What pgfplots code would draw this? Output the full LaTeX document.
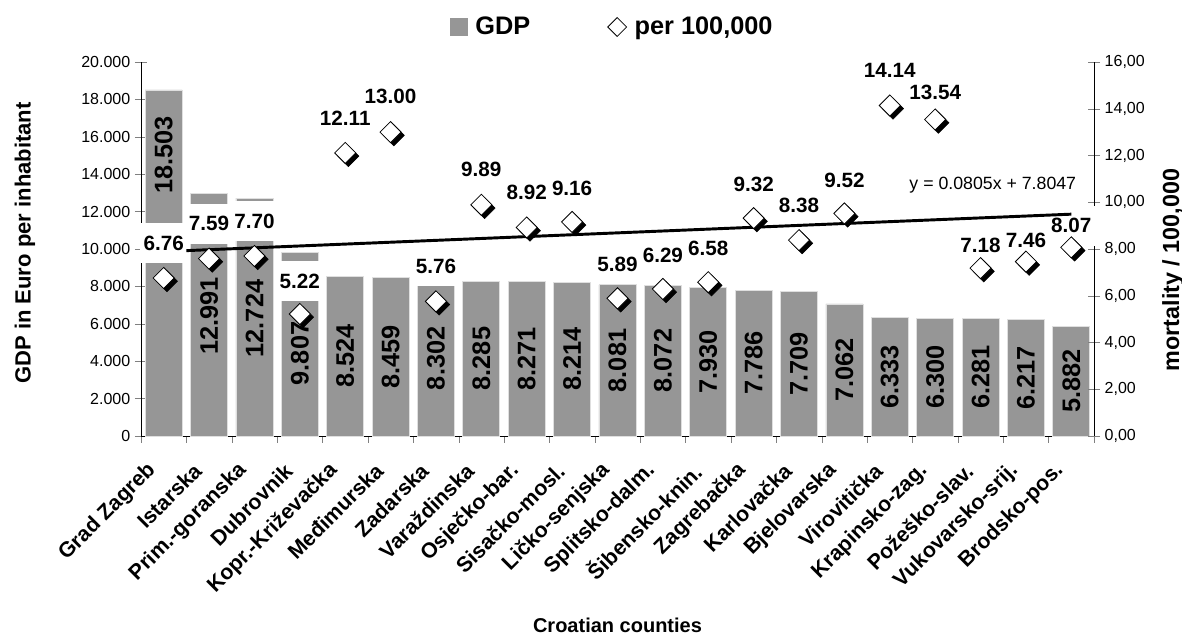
\documentclass[border=0pt]{standalone}
\usepackage{pgfplots}
\pgfplotsset{compat=1.18}
\usepackage{fontspec}
\setmainfont{Liberation Sans}
\definecolor{barcol}{RGB}{150,150,150}
\newcommand\fs[1]{\fontsize{#1}{#1}\selectfont}
\newcommand\tl[1]{{\fontsize{12}{12}\selectfont #1}}
\pgfplotsset{
  overlay axis/.style={scale only axis, width=714.75pt, height=280.5pt,
    xmin=0.5, xmax=21.5, ymin=0, ymax=16},
}

\begin{document}
\begin{tikzpicture}
% GDP bars, left axis
\begin{axis}[
  scale only axis, width=714.75pt, height=280.5pt,
  xmin=0.5, xmax=21.5, ymin=0, ymax=20000,
  axis x line*=bottom, axis y line*=left,
  xtick={1,...,21},
  xticklabels={Grad Zagreb, Istarska, Prim.-goranska, Dubrovnik, Kopr.-Križevačka,
    Međimurska, Zadarska, Varaždinska, Osječko-bar., Sisačko-mosl., Ličko-senjska,
    Splitsko-dalm., Šibensko-knin., Zagrebačka, Karlovačka, Bjelovarska, Virovitička,
    Krapinsko-zag., Požeško-slav., Vukovarsko-srij., Brodsko-pos.},
  major x tick style={draw=none},
  minor xtick={0.5,1.5,...,21.5},
  xtick align=outside, minor tick length=5pt,
  ytick={0,2000,...,20000}, ytick align=center, major tick length=9pt,
  scaled y ticks=false,
  yticklabels={\tl{0},\tl{2.000},\tl{4.000},\tl{6.000},\tl{8.000},\tl{10.000},
    \tl{12.000},\tl{14.000},\tl{16.000},\tl{18.000},\tl{20.000}},
  xticklabel style={xshift=-6pt, yshift=-12pt, rotate=45, anchor=east, font=\bfseries\fs{16}},
  xlabel={Croatian counties},
  xlabel style={at={(axis description cs:0.5,-0.505)}, anchor=center, font=\bfseries\fs{15}},
  ylabel={GDP in Euro per inhabitant},
  ylabel style={at={(axis description cs:-0.1217,0.516)}, anchor=center, font=\bfseries\fs{16.5}},
]
\addplot[ybar, bar width=27.75pt, fill=barcol, draw=gray!25, line width=0.6pt] coordinates {
  (1,18503) (2,12991) (3,12724) (4,9807) (5,8524) (6,8459) (7,8302) (8,8285) (9,8271)
  (10,8214) (11,8081) (12,8072) (13,7930) (14,7786) (15,7709) (16,7062) (17,6333)
  (18,6300) (19,6281) (20,6217) (21,5882)};
\addplot[draw=none, nodes near coords, point meta=explicit symbolic,
  nodes near coords style={rotate=90, anchor=center, font=\bfseries\fs{19}}] coordinates {
  (1,15027)[18.503] (2,6417)[12.991] (3,6283)[12.724] (4,4412)[9.807] (5,4262)[8.524]
  (6,4229.5)[8.459] (7,4151)[8.302] (8,4142.5)[8.285] (9,4135.5)[8.271] (10,4107)[8.214]
  (11,4040.5)[8.081] (12,4036)[8.072] (13,3965)[7.930] (14,3893)[7.786] (15,3854.5)[7.709]
  (16,3531)[7.062] (17,3166.5)[6.333] (18,3150)[6.300] (19,3140.5)[6.281]
  (20,3108.5)[6.217] (21,2941)[5.882]};
\coordinate (bbsw) at (rel axis cs:-0.14795,-0.52941);
\coordinate (bbne) at (rel axis cs:1.09234,1.16578);
\end{axis}
% mortality, right axis, with the labels of the points
\begin{axis}[
  overlay axis,
  axis y line*=right, axis x line=none,
  ytick={0,2,...,16}, ytick align=center, major tick length=9pt,
  yticklabels={\tl{0,00},\tl{2,00},\tl{4,00},\tl{6,00},\tl{8,00},\tl{10,00},
    \tl{12,00},\tl{14,00},\tl{16,00}},
  ylabel={mortality / 100,000},
  ylabel style={at={(axis description cs:1.083,0.444)}, anchor=center, font=\bfseries\fs{17.5}},
  legend columns=2,
  legend style={at={(0.495,1.0936)}, anchor=center, draw=none, fill=none,
    font=\bfseries\fs{19}, /tikz/every even column/.append style={column sep=56pt}},
]
\addlegendimage{only marks, mark=square*, mark size=6.5pt, mark options={fill=barcol, draw=barcol}}
\addlegendentry{\hspace{4pt}GDP}
\addlegendimage{only marks, mark=square, mark size=5pt, mark options={rotate=45, fill=white, draw=black, line width=0.6pt}}
\addlegendentry{\hspace{4pt}per 100,000}
% white boxes behind the labels
\addplot[forget plot, draw=none, nodes near coords, point meta=explicit symbolic,
  nodes near coords style={anchor=center, fill=white, inner xsep=3pt,
    inner ysep=9.5pt, font=\bfseries\fs{15.5}, text opacity=0}] coordinates {
  (1,8.26)[6.76] (2,9.09)[7.59] (3,9.20)[7.70] (4,6.63)[5.22] (5,13.61)[12.11]
  (6,14.54)[13.00] (7,7.26)[5.76] (8,11.39)[9.89] (9,10.42)[8.92] (10,10.61)[9.16]
  (11,7.34)[5.89] (12,7.74)[6.29] (13,8.03)[6.58] (14,10.77)[9.32] (15,9.88)[8.38]
  (16,10.93)[9.52] (17,15.64)[14.14] (18,14.70)[13.54] (19,8.16)[7.18] (20,8.36)[7.46]
  (21,9.00)[8.07]};
\addplot[forget plot, draw=none, nodes near coords, point meta=explicit symbolic,
  nodes near coords style={anchor=center, font=\bfseries\fs{15.5}}] coordinates {
  (1,8.26)[6.76] (2,9.09)[7.59] (3,9.20)[7.70] (4,6.63)[5.22] (5,13.61)[12.11]
  (6,14.54)[13.00] (7,7.26)[5.76] (8,11.39)[9.89] (9,10.42)[8.92] (10,10.61)[9.16]
  (11,7.34)[5.89] (12,7.74)[6.29] (13,8.03)[6.58] (14,10.77)[9.32] (15,9.88)[8.38]
  (16,10.93)[9.52] (17,15.64)[14.14] (18,14.70)[13.54] (19,8.16)[7.18] (20,8.36)[7.46]
  (21,9.00)[8.07]};
\end{axis}
% trend line and points on top
\begin{axis}[overlay axis, hide axis]
\addplot[black, line width=2.2pt] coordinates {(1.5,7.93) (21,9.49)};
\addplot[only marks, mark=square*, mark size=5.6pt,
  mark options={xshift=2.4pt, yshift=-2.4pt, rotate=45, fill=black, draw=black}] coordinates {
  (1,6.76) (2,7.59) (3,7.70) (4,5.22) (5,12.11) (6,13.00) (7,5.76) (8,9.89) (9,8.92)
  (10,9.16) (11,5.89) (12,6.29) (13,6.58) (14,9.32) (15,8.38) (16,9.52) (17,14.14)
  (18,13.54) (19,7.18) (20,7.46) (21,8.07)};
\addplot[only marks, mark=square*, mark size=5.6pt,
  mark options={rotate=45, fill=white, draw=black, line width=0.6pt}] coordinates {
  (1,6.76) (2,7.59) (3,7.70) (4,5.22) (5,12.11) (6,13.00) (7,5.76) (8,9.89) (9,8.92)
  (10,9.16) (11,5.89) (12,6.29) (13,6.58) (14,9.32) (15,8.38) (16,9.52) (17,14.14)
  (18,13.54) (19,7.18) (20,7.46) (21,8.07)};
\node[font=\fs{13.3}] at (axis cs:19.27,10.74) {y = 0.0805x + 7.8047};
\end{axis}
\pgfresetboundingbox
\path[use as bounding box] (bbsw) rectangle (bbne);
\end{tikzpicture}
\end{document}
